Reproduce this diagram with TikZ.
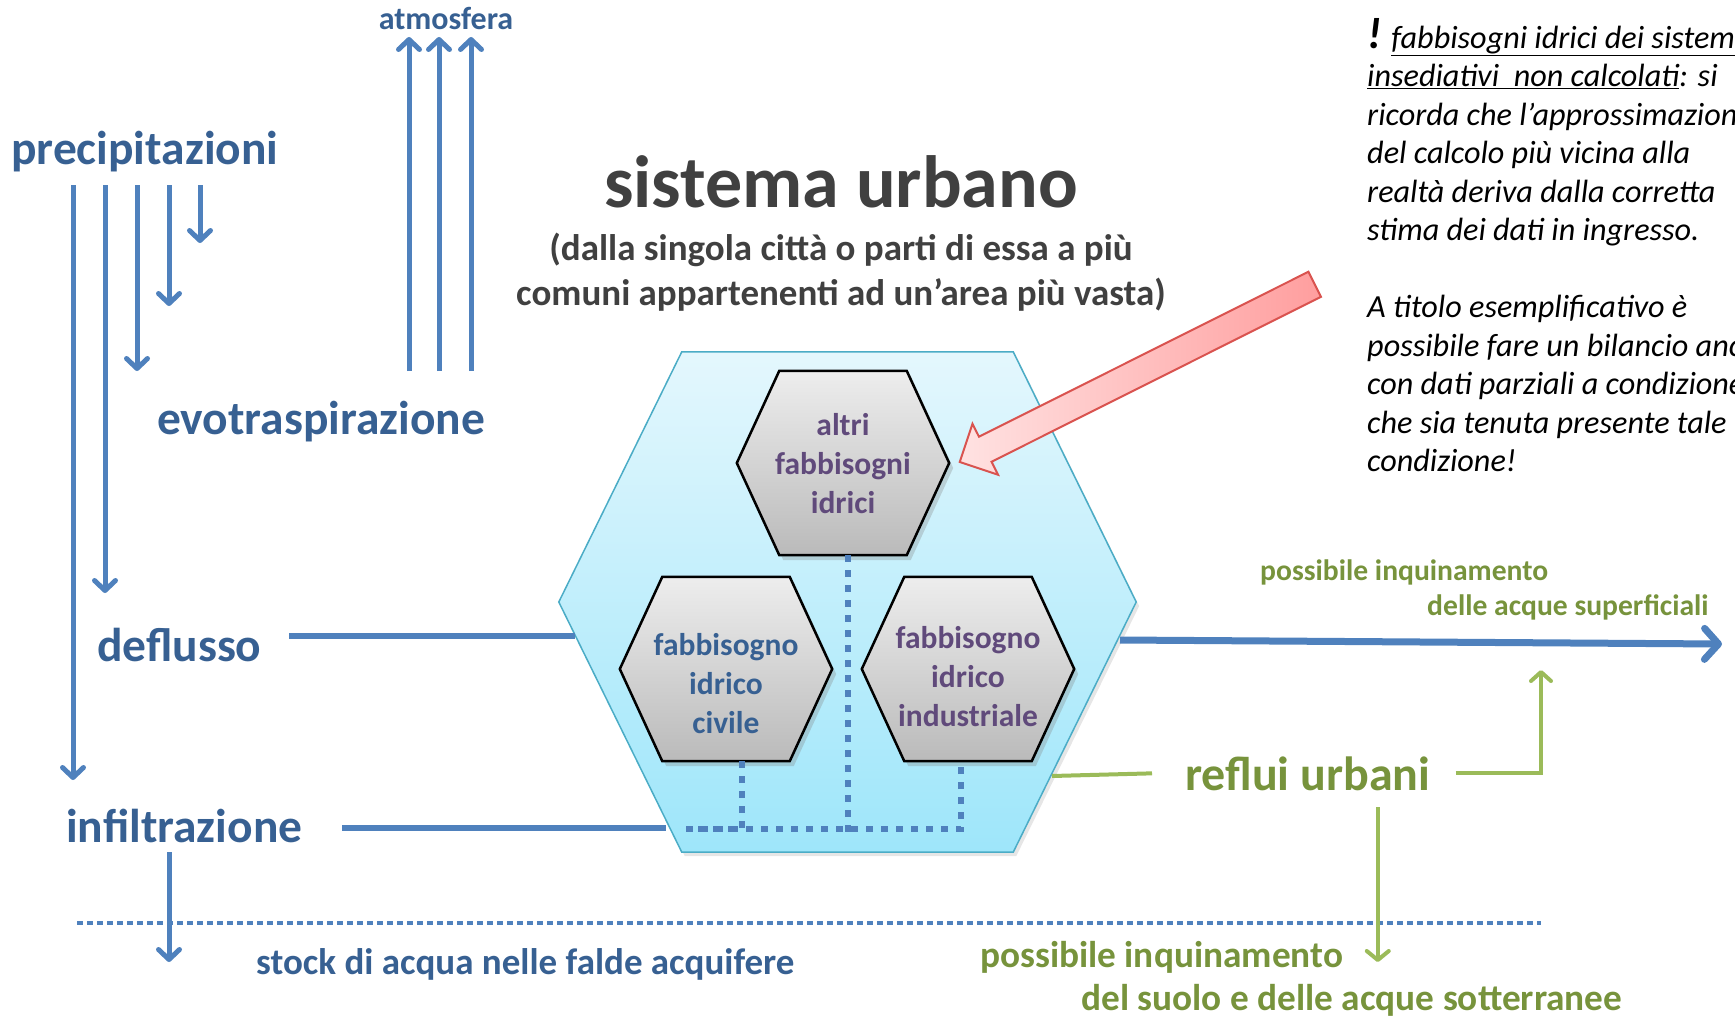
\documentclass[tikz,border=0pt]{standalone}
\usepackage{fontspec}
\setmainfont{Carlito}
\usetikzlibrary{positioning,calc,backgrounds,arrows.meta,shapes.arrows,shadows}

\definecolor{flowblue}{HTML}{4F81BD}
\definecolor{labelblue}{HTML}{376092}
\definecolor{wastegreen}{HTML}{9BBB59}
\definecolor{labelgreen}{HTML}{77933C}
\definecolor{titlegray}{HTML}{404040}
\definecolor{needpurple}{HTML}{604A7B}
\definecolor{cityline}{HTML}{4BACC6}
\definecolor{citytop}{HTML}{E4F7FD}
\definecolor{citybottom}{HTML}{9EE6FA}
\definecolor{alertline}{HTML}{D9534F}
\definecolor{alertlight}{HTML}{FFE2E2}
\definecolor{alertdark}{HTML}{FF9E9E}

% hexagon drawn round a node, #2 = inset of the flat top and bottom
\newcommand{\hexof}[2]{(#1.west) -- ($(#1.north west)!#2!(#1.north east)$)
  -- ($(#1.north east)!#2!(#1.north west)$) -- (#1.east)
  -- ($(#1.south east)!#2!(#1.south west)$)
  -- ($(#1.south west)!#2!(#1.south east)$) -- cycle}

\begin{document}
\begin{tikzpicture}[x=1pt, y=-1pt,
    every node/.style={inner sep=0pt},
    flowlabel/.style={text=labelblue, font=\fontsize{47.5}{52}\selectfont\bfseries, anchor=base west},
    wastelabel/.style={text=labelgreen, font=\fontsize{29.6}{34}\selectfont\bfseries, anchor=base west},
    flow/.style={draw=flowblue, line width=5pt, -{Straight Barb[length=10pt, width=21pt, round]}},
    flowline/.style={draw=flowblue, line width=5.5pt},
    waste/.style={draw=wastegreen, line width=4pt},
    drain/.style={draw=flowblue, line width=6pt, dash pattern=on 7pt off 8pt},
    cell/.style={minimum width=212pt, minimum height=184pt},
    needtext/.style={text=needpurple, font=\fontsize{31.5}{39}\selectfont\bfseries, align=center}]

\useasboundingbox (0,0) rectangle (1735,1017);

% titolo
\node[text=titlegray, font=\fontsize{74}{80}\selectfont\bfseries, anchor=base] (titolo) at (841,207) {sistema urbano};
\node[text=titlegray, font=\fontsize{37}{45}\selectfont\bfseries, align=center, anchor=base] (sottotitolo) at (841,305)
  {(dalla singola città o parti di essa a più\\comuni appartenenti ad un’area più vasta)};

% sistema urbano e fabbisogni
\node[minimum width=577pt, minimum height=500pt] (city) at (847.5,602) {};
\node[cell] (altri) at (843,463) {};
\node[cell] (civile) at (726,669) {};
\node[cell] (industriale) at (968,669) {};
\begin{scope}[on background layer]
  \path[draw=cityline, line width=1.5pt, top color=citytop, bottom color=citybottom,
    drop shadow={shadow xshift=3pt, shadow yshift=-4pt, opacity=0.2}] \hexof{city}{0.213};
  \foreach \hx in {altri,civile,industriale}
    \path[draw=black, line width=2.5pt, top color=black!7, bottom color=black!27,
      drop shadow={shadow xshift=4pt, shadow yshift=-5pt, opacity=0.3}] \hexof{\hx}{0.2};
\end{scope}
\node[needtext] (altri-t) at ([yshift=-1pt]altri) {altri\\fabbisogni\\idrici};
\node[needtext, text=labelblue] (civile-t) at ([yshift=-15pt]civile) {fabbisogno\\idrico\\civile};
\node[needtext] (industriale-t) at ([yshift=-8pt]industriale) {fabbisogno\\idrico\\industriale};

% scarichi interni
\coordinate (drainleft) at (686,829);
\draw[drain] ([xshift=16pt]civile.south) |- (drainleft);
\draw[drain] (drainleft) -| ([xshift=-7pt]industriale.south);
\draw[drain] ([xshift=5pt]altri.south) -- ++(0,281);

% bilancio idrico
\node[flowlabel, font=\fontsize{32}{36}\selectfont\bfseries, anchor=base] (atmosfera) at (446,29) {atmosfera};
\node[flowlabel] (precipitazioni) at (11,164) {precipitazioni};
\node[flowlabel] (evotraspirazione) at (157,434) {evotraspirazione};
\node[flowlabel] (deflusso) at (97,661) {deflusso};
\node[flowlabel] (infiltrazione) at (66,842) {infiltrazione};
\node[flowlabel, font=\fontsize{37}{42}\selectfont\bfseries] (stock) at (256,974) {stock di acqua nelle falde acquifere};

\foreach \dx/\len in {62/595, 94/408, 126/186, 158/121, 189/58}
  \draw[flow] ([shift={(\dx,21)}]precipitazioni.base west) -- ++(0,\len);
\foreach \dx in {-37,-7,25}
  \draw[flow] ([shift={(\dx,342)}]atmosfera.base) -- ([shift={(\dx,8)}]atmosfera.base);

\coordinate (deflusso-out) at (289,636);
\coordinate (city-in) at (575,636);
\coordinate (infiltrazione-out) at (342,828);
\coordinate (city-down) at (666,828);
\coordinate (city-out) at (1120,640);
\coordinate (superficie) at (1722,644);
\draw[flowline] (deflusso-out) -- (city-in);
\draw[flowline] (infiltrazione-out) -- (city-down);
\draw[flowline, line width=7pt, -{Straight Barb[length=14pt, width=31pt, round]}] (city-out) -- (superficie);
\draw[flow] ([shift={(103,10)}]infiltrazione.base west) -- ++(0,110);

% falda
\coordinate (falda-l) at (77,923);
\coordinate (falda-r) at (1541,923);
\draw[drain, line width=4.5pt, dash pattern=on 5.5pt off 4.5pt] (falda-l) -- (falda-r);

% reflui
\node[flowlabel, text=labelgreen, font=\fontsize{48}{52}\selectfont\bfseries] (reflui) at (1185,790) {reflui urbani};
\coordinate (city-reflui) at (1052,776);
\coordinate (acque-sup) at (1541,670);
\draw[waste] (city-reflui) -- ([xshift=-33pt]reflui.west);
\draw[waste, -{Straight Barb[length=9pt, width=20pt, round]}] ([xshift=25pt]reflui.east) -| (acque-sup);
\draw[waste, -{Straight Barb[length=9pt, width=22pt, round]}] ([shift={(70,17)}]reflui.base) -- ++(0,155);
\node[wastelabel] (sup1) at (1260,580) {possibile inquinamento};
\node[wastelabel] (sup2) at (1427,615) {delle acque superficiali};
\node[wastelabel, font=\fontsize{37.3}{40}\selectfont\bfseries] (sot1) at (980,967) {possibile inquinamento};
\node[wastelabel, font=\fontsize{37.3}{40}\selectfont\bfseries] (sot2) at (1081,1010) {del suolo e delle acque sotterranee};

% avviso
\node[single arrow, draw=alertline, line width=2pt, left color=alertlight, right color=alertdark,
  minimum height=397pt, text height=13pt, text depth=13pt, single arrow head extend=14.5pt,
  rotate=206.6] (avviso) at (1143.5,370) {};
\node[anchor=base west, align=left, font=\fontsize{32.2}{38.5}\selectfont\itshape] (nota) at (1367,471.5)
  {{\fontsize{44}{40}\selectfont\bfseries !} \underline{fabbisogni idrici dei sistemi}\\
   \underline{insediativi\ \ non calcolati}: si\\
   ricorda che l’approssimazione\\
   del calcolo più vicina alla\\
   realtà deriva dalla corretta\\
   stima dei dati in ingresso.\\[38.5pt]
   A titolo esemplificativo è\\
   possibile fare un bilancio anche\\
   con dati parziali a condizione\\
   che sia tenuta presente tale\\
   condizione!};

\end{tikzpicture}
\end{document}
